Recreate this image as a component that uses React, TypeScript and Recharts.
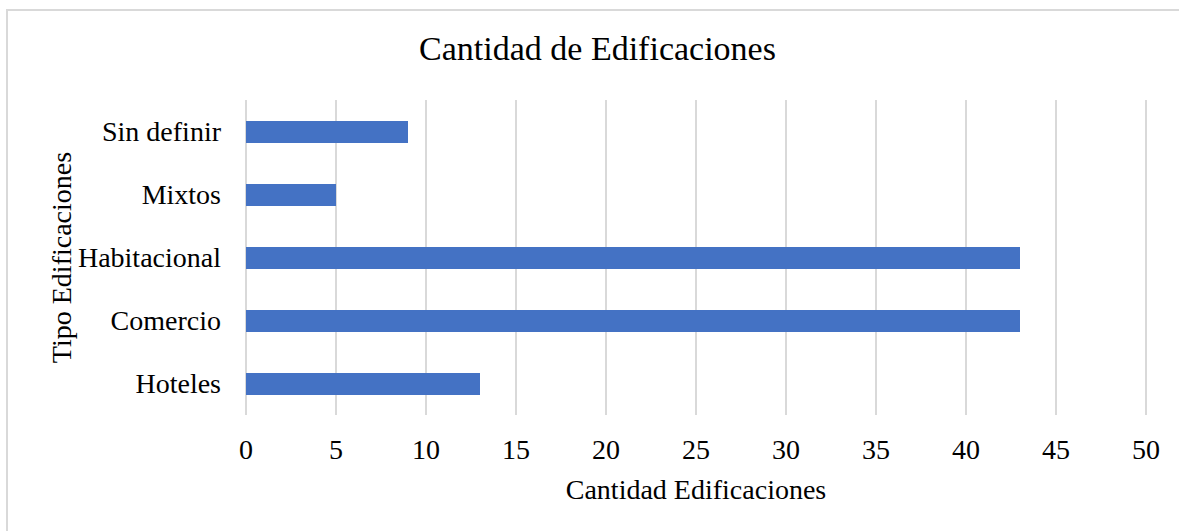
import React from "react";
import {
	BarChart,
	Bar,
	XAxis,
	YAxis,
	CartesianGrid,
	Label,
} from "recharts";

const categories = ["Sin definir", "Mixtos", "Habitacional", "Comercio", "Hoteles"];
const counts = [9, 5, 43, 43, 13];
const xTicks = [0, 5, 10, 15, 20, 25, 30, 35, 40, 45, 50];

const data = categories.map((name, i) => ({ name, value: counts[i] }));

const FONT = '"Liberation Serif", "Times New Roman", serif';

export default function App() {
	return (
		<div
			style={{
				position: "fixed",
				left: 0,
				top: 0,
				width: 1179,
				height: 531,
				background: "#fff",
				overflow: "hidden",
				fontFamily: FONT,
			}}
		>
			<div
				style={{
					position: "absolute",
					left: 6,
					top: 9,
					width: 1200,
					height: 600,
					border: "2px solid #d9d9d9",
					boxSizing: "border-box",
				}}
			/>
			<div
				style={{
					position: "absolute",
					left: 0,
					top: 29,
					width: 1195,
					textAlign: "center",
					fontSize: 34,
					lineHeight: "40px",
					color: "#000",
				}}
			>
				Cantidad de Edificaciones
			</div>
			<div style={{ position: "absolute", left: 0, top: 0 }}>
				<BarChart
					width={1179}
					height={531}
					data={data}
					layout="vertical"
					margin={{ top: 100, right: 33, bottom: 0, left: 0 }}
				>
					<CartesianGrid horizontal={false} stroke="#d9d9d9" strokeWidth={2} />
					<XAxis
						type="number"
						domain={[0, 50]}
						ticks={xTicks}
						interval={0}
						axisLine={false}
						tickLine={false}
						tickSize={0}
						tickMargin={24}
						height={116}
						tick={{ fill: "#000", fontSize: 28, fontFamily: FONT }}
					>
						<Label
							value="Cantidad Edificaciones"
							position="insideBottom"
							offset={32}
							style={{ fill: "#000", fontSize: 28, fontFamily: FONT }}
						/>
					</XAxis>
					<YAxis
						type="category"
						dataKey="name"
						width={246}
						axisLine={false}
						tickLine={false}
						tickSize={0}
						tickMargin={25}
						interval={0}
						tick={{ fill: "#000", fontSize: 28, fontFamily: FONT }}
					>
						<Label
							value="Tipo Edificaciones"
							angle={-90}
							position="insideLeft"
							offset={61}
							textAnchor="middle"
							style={{ fill: "#000", fontSize: 28, fontFamily: FONT, textAnchor: "middle" }}
						/>
					</YAxis>
					<Bar dataKey="value" fill="#4472C4" barSize={22} isAnimationActive={false} />
				</BarChart>
			</div>
		</div>
	);
}
